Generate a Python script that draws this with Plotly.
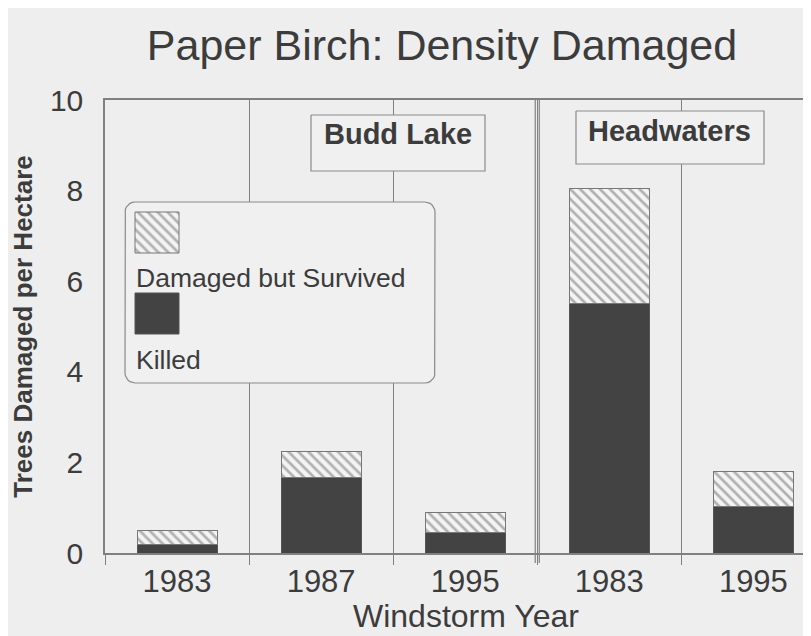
import math
import plotly.graph_objects as go

# ---- data ----
sites = ["Budd Lake", "Budd Lake", "Budd Lake", "Headwaters", "Headwaters"]
years = ["1983", "1987", "1995", "1983", "1995"]
killed = [0.18, 1.67, 0.45, 5.51, 1.02]
damaged_survived = [0.31, 0.57, 0.45, 2.54, 0.77]
y_ticks = [0, 2, 4, 6, 8, 10]

FONT = "Liberation Sans, Arial, sans-serif"
TXT = "#3c3c3c"
LINE = "#808080"
BG = "#eeeeee"
BOXBG = "#f0f0f0"
DARK = "#434343"
HATCH = dict(shape="\\", fgcolor="#6e6e6e", bgcolor="#f4f4f4", size=7, solidity=0.38)

# page has an 8px body margin: figure is drawn offset by 8px in the window
OFF = 8
W, H = 811, 636
# plot area in window pixels
PL, PR, PT, PB = 105, 811, 100, 553

xpos = list(range(len(years)))

fig = go.Figure()
fig.add_trace(go.Bar(
    x=xpos, y=killed, name="Killed", width=0.555,
    marker=dict(color=DARK, line=dict(color="#555555", width=1)),
))
fig.add_trace(go.Bar(
    x=xpos, y=damaged_survived, name="Damaged but Survived", width=0.555,
    marker=dict(color="#f4f4f4", line=dict(color="#777777", width=1), pattern=HATCH),
))


def box_trace(x0, x1, y0, y1, r=0, fill=BOXBG, line="#8a8a8a", width=1.2, pattern=None):
    xs, ys = [], []
    if r > 0:
        corners = [(x1 - r, y0 + r, -90, 0), (x1 - r, y1 - r, 0, 90),
                   (x0 + r, y1 - r, 90, 180), (x0 + r, y0 + r, 180, 270)]
        for cx, cy, a0, a1 in corners:
            for k in range(7):
                a = math.radians(a0 + (a1 - a0) * k / 6)
                xs.append(cx + r * math.cos(a))
                ys.append(cy + r * math.sin(a))
        xs.append(xs[0]); ys.append(ys[0])
    else:
        xs = [x0, x1, x1, x0, x0]
        ys = [y0, y0, y1, y1, y0]
    kw = dict(x=xs, y=ys, xaxis="x2", yaxis="y2", mode="lines", fill="toself",
              fillcolor=fill, line=dict(color=line, width=width),
              showlegend=False, hoverinfo="skip")
    if pattern:
        kw["fillpattern"] = pattern
    return go.Scatter(**kw)


# legend box and site label boxes (window pixel coords on overlay axes)
fig.add_trace(box_trace(125, 435, 202, 383, r=10))
fig.add_trace(box_trace(311, 485, 115, 171))
fig.add_trace(box_trace(576, 764, 111, 164))
# legend swatches
fig.add_trace(box_trace(135, 179, 212, 253, fill="#f4f4f4", line="#777777", width=1,
                        pattern=HATCH))
fig.add_trace(box_trace(135, 179, 293, 334, fill=DARK, line="#555555", width=1))

fig.update_layout(
    width=W, height=H,
    paper_bgcolor=BG, plot_bgcolor=BG,
    barmode="stack", showlegend=False,
    margin=dict(l=PL - OFF, r=W - (PR - OFF), t=PT - OFF, b=H - (PB - OFF), autoexpand=False),
    font=dict(family=FONT, color=TXT),
    title=dict(text="Paper Birch: Density Damaged", x=(442 - OFF) / W, xanchor="center",
               xref="container", yref="container", y=1 - (45 - OFF) / H, yanchor="middle",
               font=dict(size=43, color=TXT, family=FONT)),
    xaxis=dict(
        range=[-0.5, 4.4], tickmode="array", tickvals=xpos, ticktext=years,
        ticks="", showgrid=False, zeroline=False, automargin=False,
        showline=True, linecolor=LINE, linewidth=1.5, mirror=True,
        tickfont=dict(size=31, color=TXT),
        minor=dict(tickmode="linear", tick0=-0.5, dtick=1, showgrid=True,
                   gridcolor=LINE, gridwidth=1.2, ticks="outside", ticklen=10,
                   tickcolor=LINE, tickwidth=1.2),
    ),
    yaxis=dict(
        range=[0, 10], tickvals=y_ticks, showgrid=False, zeroline=False,
        showline=True, linecolor=LINE, linewidth=1.5, ticks="", automargin=False,
        ticklabelstandoff=14,
        tickfont=dict(size=30, color=TXT),
        title=dict(text="<b>Trees Damaged per Hectare</b>", font=dict(size=26, color=TXT),
                   standoff=22),
    ),
    xaxis2=dict(overlaying="x", range=[PL, PR], visible=False, fixedrange=True),
    yaxis2=dict(overlaying="y", range=[PB, PT], visible=False, fixedrange=True),
)

# x-axis title (placed to match the original, whose plot area runs past the right edge)
fig.add_annotation(xref="paper", yref="paper", x=(466 - PL) / (PR - PL),
                   y=(PB - 616) / (PB - PT), text="Windstorm Year", showarrow=False,
                   xanchor="center", yanchor="middle", font=dict(size=32, color=TXT))

# double separator between sites
for dx in (-0.014, 0.014):
    fig.add_shape(type="line", xref="x", yref="paper", x0=2.5 + dx, x1=2.5 + dx, y0=-0.022, y1=1,
                  line=dict(color=LINE, width=1.2), layer="above")

# legend texts
for label, ty in [("Damaged but Survived", 278), ("Killed", 360)]:
    fig.add_annotation(xref="x2", yref="y2", x=134, y=ty, text=label,
                       showarrow=False, xanchor="left", yanchor="middle",
                       font=dict(size=26.5, color=TXT))

# site labels
for name, cx, ty in [("Budd Lake", 398, 134), ("Headwaters", 669, 131)]:
    fig.add_annotation(xref="x2", yref="y2", x=cx, y=ty, text=f"<b>{name}</b>",
                       showarrow=False, xanchor="center", yanchor="middle",
                       font=dict(size=29, color=TXT))

fig.write_html("out.html")
